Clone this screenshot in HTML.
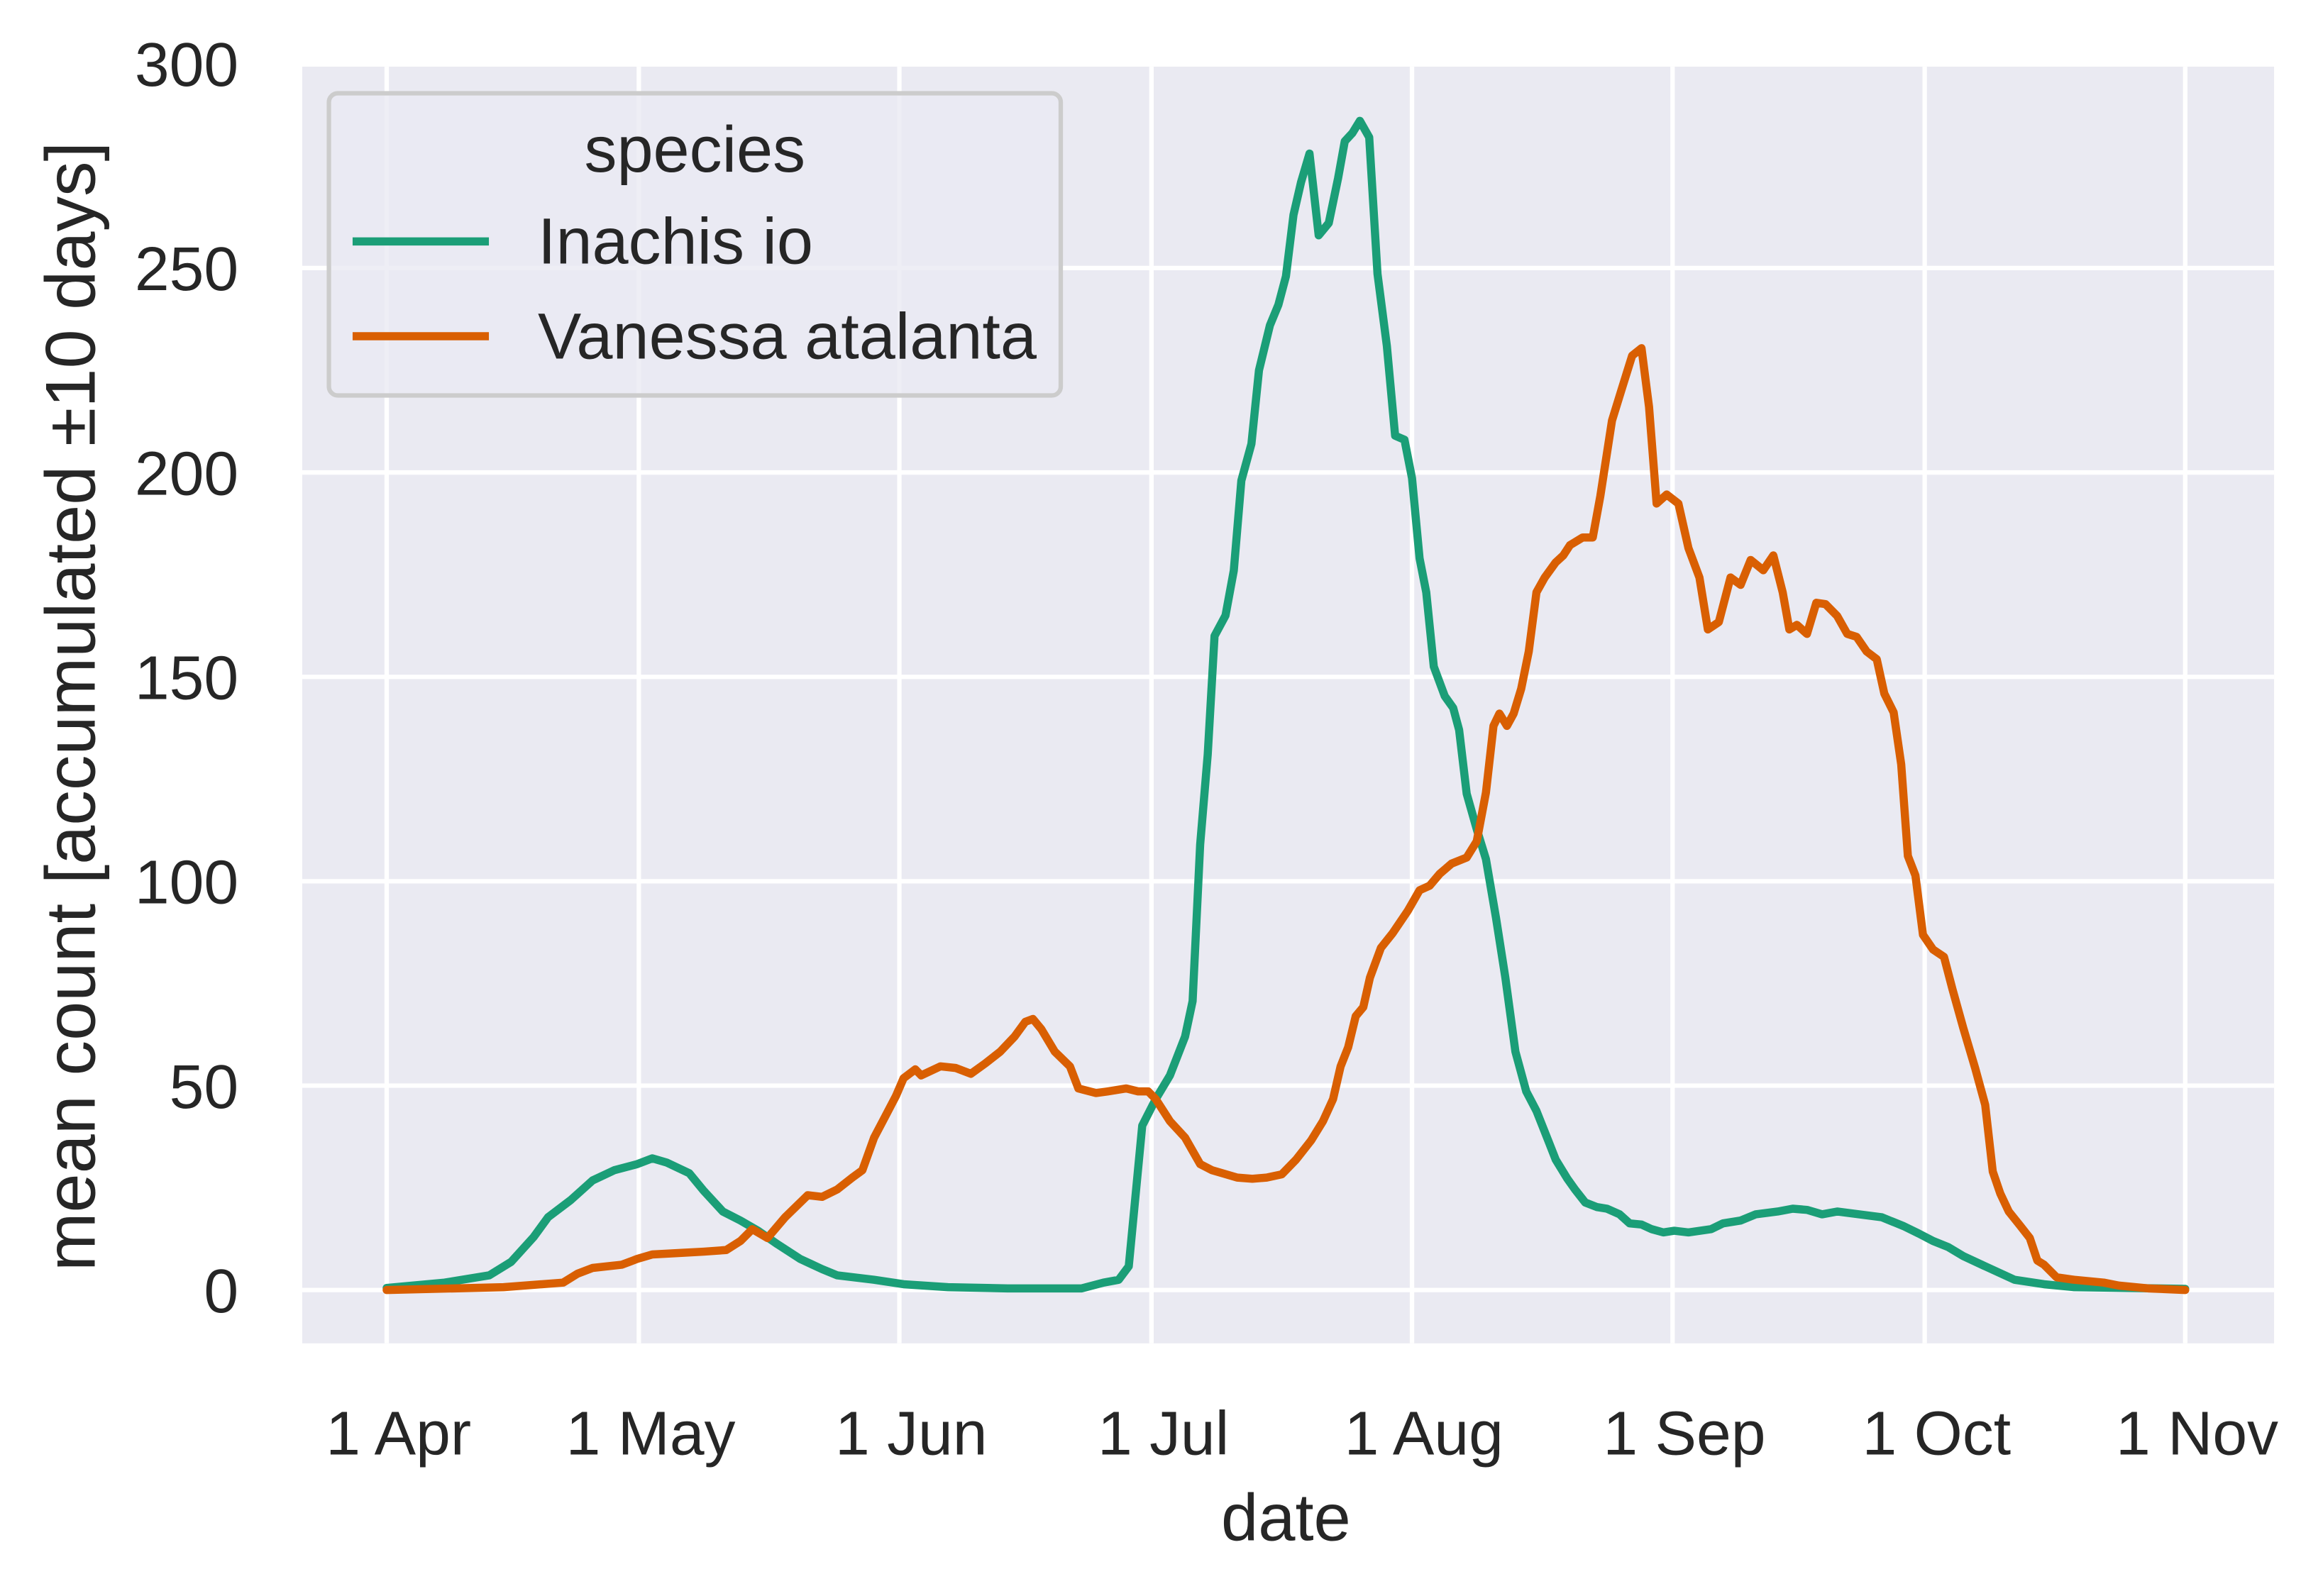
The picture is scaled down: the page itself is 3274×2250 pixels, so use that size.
<!DOCTYPE html>
<html><head><meta charset="utf-8"><style>html,body{margin:0;padding:0;background:#fff}svg{display:block}</style></head>
<body>
<svg id="chart" width="3274" height="2250" viewBox="0 0 1568 1077.6" xmlns="http://www.w3.org/2000/svg" font-family="'Liberation Sans', 'DejaVu Sans', sans-serif" fill="#262626">
<rect x="204" y="45" width="1331" height="862" fill="#eaeaf2"/>
<g id="grid"></g>
<g id="series"></g>
<g id="yticks"></g>
<g id="xticks"></g>
<text x="868" y="1040" font-size="45" text-anchor="middle">date</text>
<text transform="translate(64,477) rotate(-90)" font-size="47.5" text-anchor="middle">mean count [accumulated ±10 days]</text>
<g>
<rect x="222" y="63" width="494" height="204" rx="6" fill="#eaeaf2" fill-opacity="0.8" stroke="#cccccc" stroke-width="3"/>
<text x="469" y="116" font-size="44" text-anchor="middle">species</text>
<line x1="238" y1="163" x2="330" y2="163" stroke="#1b9e77" stroke-width="5.5"/>
<text x="363" y="178" font-size="44">Inachis io</text>
<line x1="238" y1="227" x2="330" y2="227" stroke="#d95f02" stroke-width="5.5"/>
<text x="363" y="242" font-size="44">Vanessa atalanta</text>
</g>
</svg>
<script>
const yTicks=[0,50,100,150,200,250,300];
const xTickDays=[0,30,61,91,122,153,183,214];
const xTickLabels=["1 Apr","1 May","1 Jun","1 Jul","1 Aug","1 Sep","1 Oct","1 Nov"];
const ioDays=[0,6.9,12.2,14.8,17.5,19.2,21.9,24.5,27.1,29.8,31.6,33.3,36,37.7,40,42.1,44.2,46.5,49.2,51.8,53.6,58,61.5,66.8,73.9,82.7,85.3,87.1,88.3,89.9,91.5,93.2,95,95.9,96.8,97.7,98.5,99.8,100.8,101.7,102.9,103.8,105.1,106.1,107,107.9,108.8,109.8,110.9,112.1,113.2,114,114.9,115.8,116.9,117.9,119,120,121.1,122,122.9,123.7,124.6,125.9,126.9,127.6,128.5,129.7,130.8,132,133.1,134.3,135.6,136.8,138.2,139.1,140.5,141.4,142.6,144,145.2,146.7,147.9,149.3,150.5,151.9,153.2,154.9,157.6,159,161.1,162.9,165.5,167.3,169,170.8,172.6,175.2,177.9,180.5,182.3,184,185.8,187.6,190.2,193.7,197.2,200.8,214];
const ioValues=[0.5,1.8,3.6,6.9,13,17.8,22,26.8,29.3,30.8,32.2,31.2,28.6,24.3,19.2,17,14.5,11.2,7.6,5.1,3.6,2.5,1.4,0.7,0.4,0.4,1.8,2.5,5.8,40.2,46.7,52.5,62,70.7,109,131,160,165,176,198,207,225,236,241,248,263,271,278,258,261,272,281,283,286,282,248.6,231,209,208,198.6,179,170.7,152.5,145.3,142.4,137,121.4,112.7,105.4,91,76.4,58.3,48.6,43.8,36.6,31.9,27.2,24.6,21.4,20.3,19.9,18.5,16.3,16,14.9,14.1,14.5,14.1,14.9,16.3,17,18.5,19.2,19.9,19.6,18.5,19.2,18.5,17.8,15.6,13.8,12,10.5,8.3,5.8,2.5,1.4,0.7,0.3];
const vaDays=[0,13.9,21,22.7,24.5,28,29.8,31.6,35.1,37.7,40.4,42.1,43.5,45.3,47.4,50.1,51.8,53.6,55.4,56.6,58,59.4,60.6,61.5,62.9,63.6,65.9,67.7,69.5,71.2,73,74.7,76,76.9,77.9,79.5,81.3,82.3,84.4,85.8,88,89.4,90.6,91.5,93.2,95,96.8,98.2,99.4,101.2,103,104.7,106.5,108.2,110,111.4,112.6,113.5,114.4,115.3,116.2,117,118.3,119.7,121.5,122.9,124.1,125.3,126.7,128.5,129.7,130.8,131.7,132.4,133.3,134.1,135,135.9,136.8,137.8,139.1,140,140.8,142.3,143.5,144.4,145.8,147,148.2,149.3,150.2,151.1,152.3,153.7,154.9,156.2,157.2,158.5,159.9,161.1,162.3,163.8,165,166.1,166.9,167.8,169,170.1,171.2,172.6,173.8,174.9,176.1,177.3,178.2,179.3,180.2,181,181.9,182.8,184,185.3,186.3,187.6,189,190.2,191.1,192,193,194.3,195.5,196.4,197.2,198.7,200.8,204.3,206.1,209.6,214];
const vaValues=[0,0.7,1.8,4,5.4,6.2,7.6,8.7,9.1,9.4,9.8,12,14.9,12.7,17.8,23.2,22.8,24.6,27.5,29.3,37.3,42.8,47.5,51.8,54,52.5,54.7,54.3,52.9,55.4,58.3,62,65.6,66.3,63.8,58.3,54.7,49.3,48.2,48.6,49.3,48.6,48.6,46.7,41.3,37.3,30.8,29.3,28.6,27.5,27.2,27.5,28.3,31.9,36.6,41.3,46.7,54.7,59.4,67,69.2,76.4,83.7,87.3,92.8,97.8,98.9,101.8,104.3,105.8,109.8,121.7,138,141,138,141,147.1,156.2,170.7,174.3,178,179.7,182.2,184.1,184.1,194.2,212.7,220.7,228.6,230.4,216,192.4,194.6,192.4,181.5,174.3,161.6,163.4,174.3,172.5,178.6,176.1,179.7,170.7,161.6,162.7,160.5,168.1,167.8,164.9,160.5,159.8,156.2,154.3,145.9,141.3,128.6,106.2,101.4,86.9,83.3,81.5,73.6,64.1,54.3,45.3,29,23.6,19.2,15.9,12.7,7.2,6.2,3.1,2.5,1.8,1.1,0.4,0];

const NS='http://www.w3.org/2000/svg';
const X0=261, PXD=(1475-261)/214, Y0=871, PXV=(871-43)/300;
function xs(d){return X0+d*PXD;}
function ys(v){return Y0-v*PXV;}
function mk(tag,attrs,parent){const e=document.createElementNS(NS,tag);for(const k in attrs)e.setAttribute(k,attrs[k]);parent.appendChild(e);return e;}
const grid=document.getElementById('grid'),yt=document.getElementById('yticks'),xt=document.getElementById('xticks'),ser=document.getElementById('series');
yTicks.forEach(v=>{
  const l=mk('line',{x1:204,x2:1535,y1:ys(v),y2:ys(v),stroke:'#fff','stroke-width':3},grid);
  
  
  const t=mk('text',{x:161,y:ys(v)+15,'font-size':42,'text-anchor':'end'},yt);
  
  
  t.textContent=v;
});
xTickDays.forEach((d,i)=>{
  const l=mk('line',{x1:xs(d),x2:xs(d),y1:45,y2:907,stroke:'#fff','stroke-width':3},grid);
  
  
  const t=mk('text',{x:xs(d)+8,y:982,'font-size':42,'text-anchor':'middle'},xt);
  
  
  t.textContent=xTickLabels[i];
});
function line(days,vals,color,name){
  const pts=days.map((d,i)=>xs(d).toFixed(1)+','+ys(vals[i]).toFixed(1)).join(' ');
  const p=mk('polyline',{points:pts,fill:'none',stroke:color,'stroke-width':5.5,'stroke-linejoin':'round','stroke-linecap':'round'},ser);
  
  
}
line(ioDays,ioValues,'#1b9e77','line-inachis-io');
line(vaDays,vaValues,'#d95f02','line-vanessa-atalanta');
</script>
</body></html>
